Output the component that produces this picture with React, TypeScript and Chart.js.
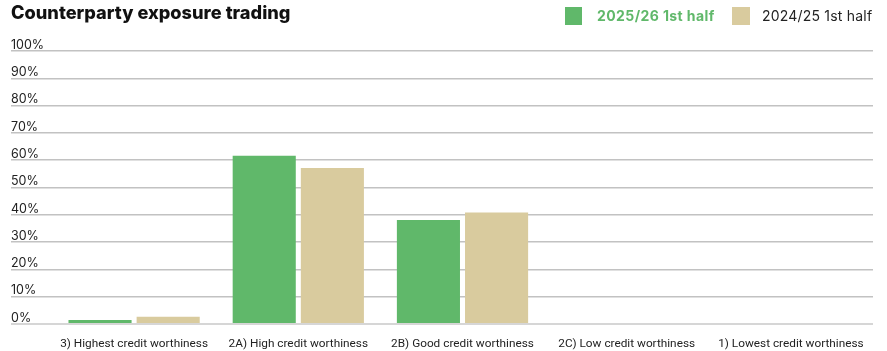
import React, { useEffect, useRef } from "react";
import { Chart, registerables } from "chart.js";

Chart.register(...registerables);

const categories = [
  "3) Highest credit worthiness",
  "2A) High credit worthiness",
  "2B) Good credit worthiness",
  "2C) Low credit worthiness",
  "1) Lowest credit worthiness",
];
const current = [1.5, 61.6, 38.1, 0, 0];
const previous = [2.7, 57.1, 40.8, 0, 0];
const currentLabel = "2025/26 1st half";
const previousLabel = "2024/25 1st half";
const title = "Counterparty exposure trading";

const GREEN = "rgb(96,184,106)";
const TAN = "rgb(217,203,158)";
const FONT = "Inter, 'Noto Sans', sans-serif";

export default function App() {
  const ref = useRef<HTMLCanvasElement>(null);
  useEffect(() => {
    const chart = new Chart(ref.current!, {
      type: "bar",
      data: {
        labels: categories,
        datasets: [
          { label: currentLabel, data: current, backgroundColor: GREEN, categoryPercentage: 0.83, barPercentage: 0.926 },
          { label: previousLabel, data: previous, backgroundColor: TAN, categoryPercentage: 0.83, barPercentage: 0.926 },
        ],
      },
      options: {
        animation: false,
        responsive: false,
        maintainAspectRatio: false,
        layout: { padding: { left: 11, right: 14, top: 51, bottom: 0 } },
        plugins: { legend: { display: false }, title: { display: false }, tooltip: { enabled: false } },
        scales: {
          x: {
            afterFit: (s: any) => { s.height = 27; },
            grid: { display: false, drawTicks: false },
            border: { display: false },
            ticks: {
              padding: 13,
              color: "#222",
              maxRotation: 0,
              autoSkip: false,
              font: { family: "Roboto, sans-serif", size: 11.8 },
            },
          },
          y: {
            min: 0,
            max: 100,
            afterFit: (s: any) => { s.width = 41; },
            grid: {
              color: (c: any) => (c.tick && c.tick.value === 0 ? "#d6d6d6" : "#c2c2c2"),
              lineWidth: (c: any) => (c.tick && c.tick.value === 0 ? 2 : 1.5),
              drawTicks: true,
              tickLength: 41,
            },
            border: { display: false },
            ticks: {
              stepSize: 10,
              crossAlign: "far",
              labelOffset: -6,
              padding: 0,
              color: "#222",
              font: { family: FONT, size: 12.5 },
              callback: (v: any) => v + "%",
            },
          },
        },
      },
    });
    return () => chart.destroy();
  }, []);

  const legendText: React.CSSProperties = { position: "absolute", top: 7, fontFamily: FONT, fontSize: 14, lineHeight: "18px", whiteSpace: "nowrap" };
  return (
    <div style={{ position: "absolute", left: 0, top: 0, width: 887, height: 351, background: "#fff" }}>
      <canvas ref={ref} width={887} height={351} style={{ position: "absolute", left: 0, top: 0 }} />
      <div style={{ position: "absolute", left: 11, top: 1, fontFamily: FONT, fontWeight: 800, fontSize: 18.2, color: "#111", lineHeight: "22px", whiteSpace: "nowrap" }}>
        {title}
      </div>
      <span style={{ position: "absolute", left: 565, top: 7, width: 17, height: 18, background: GREEN }} />
      <span style={{ ...legendText, left: 597, color: GREEN, fontWeight: 700, letterSpacing: 0.4 }}>{currentLabel}</span>
      <span style={{ position: "absolute", left: 732, top: 7, width: 18, height: 18, background: TAN }} />
      <span style={{ ...legendText, left: 762, color: "#222", letterSpacing: 0.2 }}>{previousLabel}</span>
    </div>
  );
}
